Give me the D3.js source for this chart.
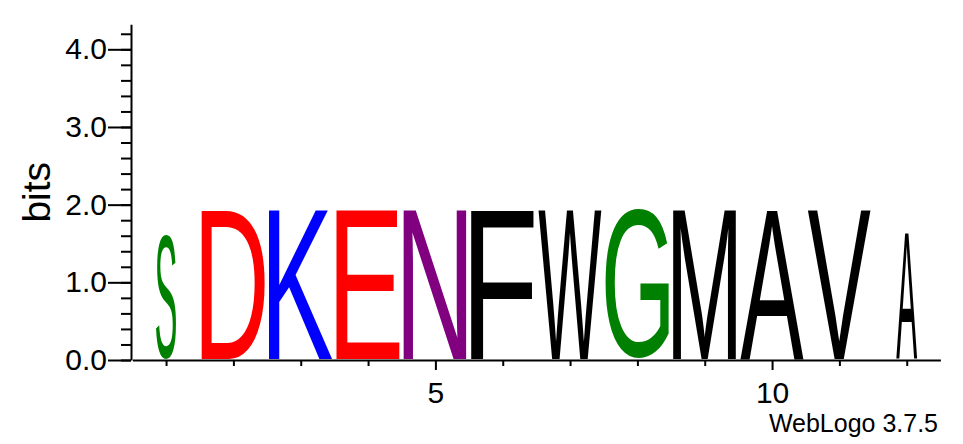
<!DOCTYPE html>
<html>
<head>
<meta charset="utf-8">
<script src="https://cdn.jsdelivr.net/npm/d3@7"></script>
<style>
  body { margin: 0; background: #fff; }
  text { font-family: "Liberation Sans", Arial, Helvetica, sans-serif; }
</style>
</head>
<body>
<script>
const WIDTH = 963;
const HEIGHT = 444;

// one letter per position
const positions = [1, 2, 3, 4, 5, 6, 7, 8, 9, 10, 11, 12];
const letters = ['S', 'D', 'K', 'E', 'N', 'F', 'W', 'G', 'M', 'A', 'V', 'A'];
const bits = [1.63, 1.93, 1.93, 1.93, 1.93, 1.93, 1.93, 1.93, 1.93, 1.93, 1.93, 1.63];
// fraction of non-gap symbols (stack width scaling)
const widthFraction = [0.32, 1, 1, 1, 1, 1, 1, 1, 1, 1, 1, 0.33];
const yMajorTicks = [0, 1, 2, 3, 4];
const xLabelTicks = [5, 10];

const colors = {
  G: '#008000', S: '#008000', T: '#008000', Y: '#008000', C: '#008000',
  N: '#800080', Q: '#800080',
  K: '#0000ff', R: '#0000ff', H: '#0000ff',
  D: '#ff0000', E: '#ff0000',
};

const svg = d3.select('body')
  .append('svg')
  .attr('width', WIDTH)
  .attr('height', HEIGHT);

const x = d3.scaleLinear().domain([0.5, 12.5]).range([132.4, 940.4]);
const y = d3.scaleLinear().domain([0, Math.log2(20)]).range([360, 24.3]);
const step = x(2) - x(1);

// measure glyph ink so each letter can be stretched to fill its box
const ctx = document.createElement('canvas').getContext('2d');
const GLYPH_FONT = 'Liberation Sans';
ctx.font = `100px "${GLYPH_FONT}"`;

function drawLetter(g, ch, x0, w, yBottom, h) {
  const m = ctx.measureText(ch);
  const inkW = m.actualBoundingBoxLeft + m.actualBoundingBoxRight;
  const inkH = m.actualBoundingBoxAscent + m.actualBoundingBoxDescent;
  g.append('text')
    .attr('x', 0)
    .attr('y', 0)
    .style('font-family', `"${GLYPH_FONT}", Arial, sans-serif`)
    .style('font-size', '100px')
    .attr('fill', colors[ch] || '#000')
    .attr('transform',
      `translate(${x0},${yBottom}) scale(${w / inkW},${h / inkH}) translate(${m.actualBoundingBoxLeft},${-m.actualBoundingBoxDescent})`)
    .text(ch);
}

const logo = svg.append('g');
positions.forEach((p, i) => {
  const w = step * 0.946 * widthFraction[i];
  const yb = y(0) - 1.5;
  const h = yb - y(bits[i]);
  drawLetter(logo, letters[i], x(p) - w / 2, w, yb, h);
});

// y axis
const yMinor = d3.range(0, 4.3, 0.2);
svg.append('g')
  .attr('transform', 'translate(131,0)')
  .call(d3.axisLeft(y).tickValues(yMinor).tickSizeInner(10).tickSizeOuter(0).tickFormat(''))
  .call(g => g.selectAll('text').remove())
  .call(g => g.selectAll('line, path').attr('stroke-width', 2));

svg.append('g')
  .attr('transform', 'translate(131,0)')
  .call(d3.axisLeft(y).tickValues(yMajorTicks).tickSizeInner(23).tickSizeOuter(0).tickPadding(1).tickFormat(d3.format('.1f')))
  .call(g => g.select('.domain').remove())
  .call(g => g.selectAll('line').attr('stroke-width', 2))
  .call(g => g.selectAll('text').attr('font-size', 30).attr('font-family', null).attr('fill', '#000'));

svg.append('text')
  .attr('transform', `translate(50,${y(2.16)}) rotate(-90)`)
  .attr('text-anchor', 'middle')
  .attr('font-size', 39)
  .text('bits');

// x axis
svg.append('g')
  .attr('transform', 'translate(0,360)')
  .call(d3.axisBottom(x).tickValues(positions).tickSizeInner(6).tickSizeOuter(0).tickPadding(16)
    .tickFormat(d => xLabelTicks.includes(d) ? d : ''))
  .call(g => g.select('.domain').attr('stroke-width', 2))
  .call(g => g.selectAll('.tick line').attr('stroke-width', 2)
    .attr('y2', d => xLabelTicks.includes(d) ? 10 : 6))
  .call(g => g.selectAll('.tick text').filter(d => !xLabelTicks.includes(d)).remove())
  .call(g => g.selectAll('text').attr('font-size', 30).attr('font-family', null).attr('fill', '#000'));

svg.append('text')
  .attr('x', 938)
  .attr('y', 432)
  .attr('text-anchor', 'end')
  .attr('font-size', 25)
  .text('WebLogo 3.7.5');
</script>
</body>
</html>
